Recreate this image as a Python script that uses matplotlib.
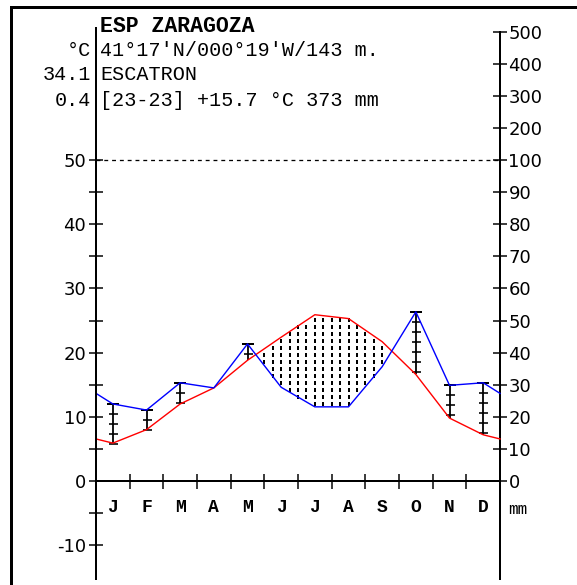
import numpy as np
import matplotlib
matplotlib.use("Agg")
import matplotlib.pyplot as plt
from matplotlib.patches import Rectangle

# climate normals
months = ["J", "F", "M", "A", "M", "J", "J", "A", "S", "O", "N", "D"]
temp_c = [5.9, 8.0, 12.0, 14.5, 18.8, 22.4, 25.9, 25.3, 21.7, 16.6, 9.8, 7.2]
precip_mm = [24.0, 22.1, 30.6, 29.0, 42.7, 29.2, 23.1, 23.1, 35.6, 52.7, 29.8, 30.6]

station = "ESP ZARAGOZA"
coords = "41°17'N/000°19'W/143 m."
place = "ESCATRON"
summary = "[23-23] +15.7 °C 373 mm"
abs_max = "34.1"
abs_min = "0.4"

left_ticks = [-10, 0, 10, 20, 30, 40, 50]
left_minor = [-5, 5, 15, 25, 35, 45]
right_ticks = [0, 10, 20, 30, 40, 50, 60, 70, 80, 90, 100, 200, 300, 400, 500]

W, H = 577, 585
PX = 0.72          # points per pixel at dpi 100
PX_PER_C = 6.42    # vertical pixels per degree
MONO = "Liberation Mono"


def c2mm(c):
    c = np.asarray(c, dtype=float)
    return np.where(c <= 50, c * 2, 100 + (c - 50) * 20)


def mm2c(m):
    m = np.asarray(m, dtype=float)
    return np.where(m <= 100, m / 2, 50 + (m - 100) / 20)


fig = plt.figure(figsize=(W / 100, H / 100), dpi=100)
ax = fig.add_axes([96 / W, 0, 404 / W, 1])
ax.set_xlim(0, 12)
ax.set_ylim(-(H - 481) / PX_PER_C, 481 / PX_PER_C)
ax.patch.set_visible(False)

# axes lines
for side in ["top", "right"]:
    ax.spines[side].set_visible(False)
ax.spines["left"].set_bounds(-15.3, 70.5)
ax.spines["left"].set_linewidth(2 * PX)
ax.spines["bottom"].set_position(("data", 0))
ax.spines["bottom"].set_bounds(0, 12)
ax.spines["bottom"].set_linewidth(2 * PX)

ax.set_yticks(left_ticks, [str(t) for t in left_ticks])
ax.set_yticks(left_minor, minor=True)
ax.tick_params(axis="y", which="both", direction="inout", length=14 * PX,
               width=1.5 * PX, labelsize=13, pad=2)

ax.set_xticks(range(1, 12), [""] * 11)
ax.set_xticks(np.arange(12) + 0.5, months, minor=True)
ax.tick_params(axis="x", which="major", direction="inout", length=15 * PX,
               width=1.5 * PX)
ax.tick_params(axis="x", which="minor", length=0, pad=13)
for lab in ax.get_xticklabels(minor=True):
    lab.set_fontfamily(MONO)
    lab.set_fontweight("bold")
    lab.set_fontsize(13)

secax = ax.secondary_yaxis("right", functions=(c2mm, mm2c))
secax.set_yticks(right_ticks, [str(t) for t in right_ticks])
secax.tick_params(direction="inout", length=14 * PX, width=1.5 * PX,
                  labelsize=13, pad=1)
secax.spines["right"].set_bounds(float(c2mm(-15.3)), 500)
secax.spines["right"].set_linewidth(2 * PX)

# 100 mm line
ax.hlines(50, 0, 12, colors="black", linestyles=(0, (3, 3)), lw=1.3 * PX)

# curves, closed at the year edges with the Dec/Jan mean
xs = np.concatenate([[0], np.arange(12) + 0.5, [12]])
t_edge = (temp_c[0] + temp_c[-1]) / 2
p_edge = (precip_mm[0] + precip_mm[-1]) / 2
t_line = np.r_[t_edge, temp_c, t_edge]
p_line = mm2c(np.r_[p_edge, precip_mm, p_edge])

# dry season: dotted columns every quarter month
xq = np.arange(1, 48) / 4
tq = np.interp(xq, xs, t_line)
pq = np.interp(xq, xs, p_line)
grid = np.arange(0, 50, 7 / PX_PER_C)
for x, lo, hi in zip(xq, pq, tq):
    if hi > lo:
        ys = grid[(grid > lo) & (grid < hi)]
        ax.plot([x] * len(ys), ys, ls="none", marker="|", ms=3.5 * PX,
                mew=2 * PX, color="black")

# humid months: ladder bars
step = 10 / PX_PER_C
for i in range(12):
    top = float(mm2c(precip_mm[i]))
    bot = temp_c[i]
    if top > bot:
        x = i + 0.5
        ax.vlines(x, bot, top, colors="black", lw=1.8 * PX)
        ys = np.arange(top, bot - 0.4, -step)
        ax.plot([x] * len(ys), ys, ls="none", marker="_", ms=9 * PX,
                mew=1.6 * PX, color="black")
        ax.plot([x], [top], ls="none", marker="_", ms=12 * PX,
                mew=2 * PX, color="black")

ax.plot(xs, t_line, color="#ff0000", lw=1.4 * PX, clip_on=False)
ax.plot(xs, p_line, color="#0000ff", lw=1.4 * PX, clip_on=False)

# header
fig.text(100 / W, 1 - 26 / H, station, family=MONO, weight="bold",
         size=15.5, va="center")
fig.text(100 / W, 1 - 50 / H, coords, family=MONO, size=14.5, va="center")
fig.text(100 / W, 1 - 75 / H, place, family=MONO, size=14.5, va="center")
fig.text(100 / W, 1 - 100 / H, summary, family=MONO, size=14.5, va="center")
fig.text(91 / W, 1 - 50 / H, "°C", family=MONO, size=14.5, va="center", ha="right")
fig.text(91 / W, 1 - 75 / H, abs_max, family=MONO, size=14.5, va="center", ha="right")
fig.text(91 / W, 1 - 100 / H, abs_min, family=MONO, size=14.5, va="center", ha="right")
fig.text(508 / W, 1 - 509 / H, "mm", family=MONO, size=11.5, va="center")

# outer frame, cut by the image edge on the right and bottom
fig.patches.append(Rectangle((11 / W, -0.05), 1.0, 1 - 7 / H + 0.05,
                             transform=fig.transFigure, fill=False,
                             lw=3 * PX, ec="black"))

fig.savefig("out.png", dpi=100, facecolor="white")
